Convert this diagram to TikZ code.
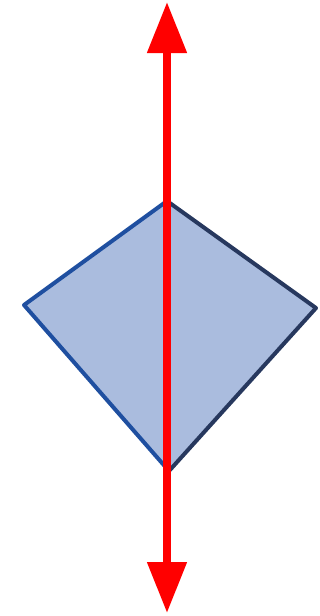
\documentclass[tikz,border=0pt]{standalone}
\usetikzlibrary{arrows.meta}
\definecolor{dfill}{HTML}{AABCDE}
\definecolor{dleft}{HTML}{1F4FA0}
\definecolor{dright}{HTML}{27385E}
\definecolor{ared}{HTML}{FF0000}
\tikzset{
  leftedge/.style={draw=dleft,line width=4pt,line cap=round,line join=round},
  rightedge/.style={draw=dright,line width=4pt,line cap=round,line join=round},
  axis/.style={draw=ared,line width=8pt,{Triangle[length=51pt,width=38pt]}-{Triangle[length=51pt,width=38pt]}}
}
\begin{document}
\begin{tikzpicture}[x=1pt,y=-1pt]
\useasboundingbox (0,0) rectangle (320,616);
\coordinate (T) at (167,201);
\coordinate (R) at (316,308);
\coordinate (B) at (169,471);
\coordinate (L) at (24,305);
\fill[dfill] (T) -- (R) -- (B) -- (L) -- cycle;
\draw[leftedge] (T) -- (L) -- (B);
\draw[rightedge] (T) -- (R) -- (B);
\coordinate (top) at (167,2);
\coordinate (bot) at (167,613);
\draw[axis] (bot) -- (top);
\end{tikzpicture}
\end{document}
